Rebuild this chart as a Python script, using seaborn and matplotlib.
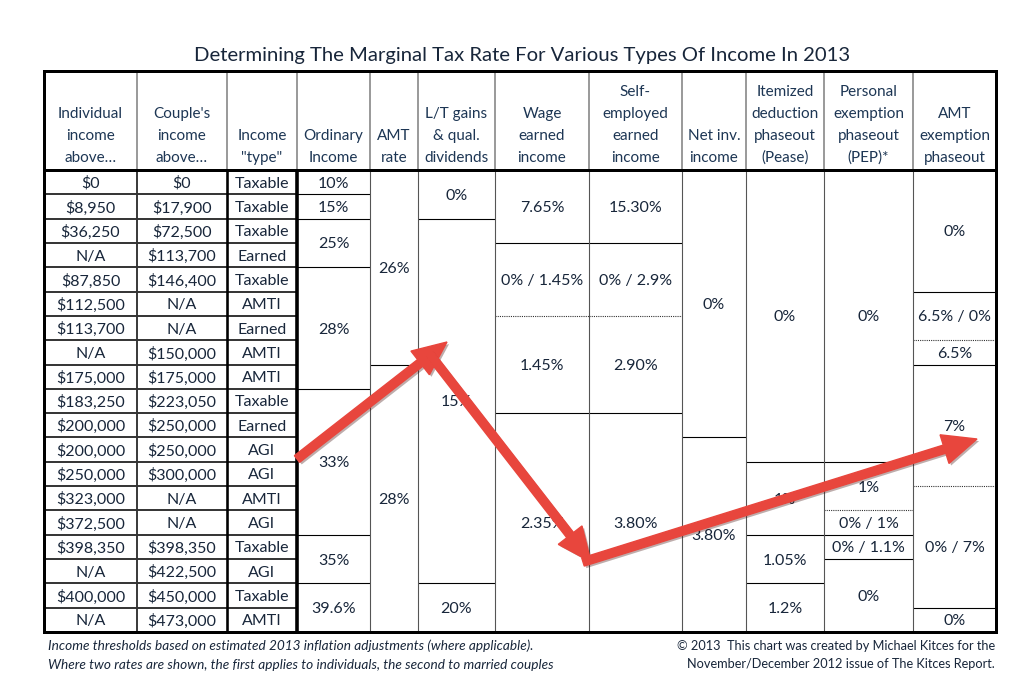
import numpy as np
import matplotlib.pyplot as plt
import matplotlib.patheffects as pe
from matplotlib.patches import FancyArrow, Rectangle
import seaborn as sns

# --- chart content ---
title = "Determining The Marginal Tax Rate For Various Types Of Income In 2013"

headers = [
    ["Individual", "income", "above…"],
    ["Couple's", "income", "above…"],
    ["Income", '"type"'],
    ["Ordinary", "Income"],
    ["AMT", "rate"],
    ["L/T gains", "& qual.", "dividends"],
    ["Wage", "earned", "income"],
    ["Self-", "employed", "earned", "income"],
    ["Net inv.", "income"],
    ["Itemized", "deduction", "phaseout", "(Pease)"],
    ["Personal", "exemption", "phaseout", "(PEP)*"],
    ["AMT", "exemption", "phaseout"],
]

individual = ["$0", "$8,950", "$36,250", "N/A", "$87,850", "$112,500", "$113,700",
              "N/A", "$175,000", "$183,250", "$200,000", "$200,000", "$250,000",
              "$323,000", "$372,500", "$398,350", "N/A", "$400,000", "N/A"]
couple = ["$0", "$17,900", "$72,500", "$113,700", "$146,400", "N/A", "N/A",
          "$150,000", "$175,000", "$223,050", "$250,000", "$250,000", "$300,000",
          "N/A", "N/A", "$398,350", "$422,500", "$450,000", "$473,000"]
income_type = ["Taxable", "Taxable", "Taxable", "Earned", "Taxable", "AMTI", "Earned",
               "AMTI", "AMTI", "Taxable", "Earned", "AGI", "AGI", "AMTI", "AGI",
               "Taxable", "AGI", "Taxable", "AMTI"]

# rate columns: labels and how many threshold rows each one covers
ordinary_labels = ["10%", "15%", "25%", "28%", "33%", "35%", "39.6%"]
ordinary_rows = [1, 1, 2, 5, 6, 2, 2]
amt_labels = ["26%", "28%"]
amt_rows = [8, 11]
ltcg_labels = ["0%", "15%", "20%"]
ltcg_rows = [2, 15, 2]
wage_labels = ["7.65%", "0% / 1.45%", "1.45%", "2.35%"]
wage_rows = [3, 3, 4, 9]
self_labels = ["15.30%", "0% / 2.9%", "2.90%", "3.80%"]
self_rows = [3, 3, 4, 9]
niit_labels = ["0%", "3.80%"]
niit_rows = [11, 8]
pease_labels = ["0%", "1%", "1.05%", "1.2%"]
pease_rows = [12, 3, 2, 2]
pep_labels = ["0%", "1%", "0% / 1%", "0% / 1.1%", "0%"]
pep_rows = [12, 2, 1, 1, 3]
amtex_labels = ["0%", "6.5% / 0%", "6.5%", "7%", "0% / 7%", "0%"]
amtex_rows = [5, 2, 1, 5, 5, 1]

# group boundaries (index of group below the line) drawn dotted instead of solid
wage_dotted = [2]
self_dotted = [2]
pep_dotted = [2]
amtex_dotted = [2, 4]

notes_left = ["Income thresholds based on estimated 2013 inflation adjustments (where applicable).",
              "Where two rates are shown, the first applies to individuals, the second to married couples"]
notes_right = ["© 2013  This chart was created by Michael Kitces for the",
               "November/December 2012 issue of The Kitces Report."]

# --- layout (pixel space) ---
sns.set_theme(style="white")
plt.rcParams['font.family'] = ['Lato', 'DejaVu Sans']

W, H = 1024, 676
col_edges = [44, 137, 227, 297, 370, 418, 495, 589, 682, 746, 824, 913, 996]
table_top, header_bottom, table_bottom = 71, 170, 632
n_rows = len(individual)
row_h = (table_bottom - header_bottom) / n_rows
px = 0.72  # points per pixel at 100 dpi

text_c = '#18263a'
head_c = '#1d3654'
arrow_c = '#e8463d'


def row_y(r):
    return header_bottom + r * row_h


fig = plt.figure(figsize=(W / 100, H / 100), dpi=100)
ax = fig.add_axes([0, 0, 1, 1])
ax.set_xlim(0, W)
ax.set_ylim(H, 0)
ax.axis('off')

ax.text(522, 56, title, ha='center', va='center', fontsize=14.6, color=text_c)

# header
for c, lines in enumerate(headers):
    xm = (col_edges[c] + col_edges[c + 1]) / 2
    for k, line in enumerate(lines[::-1]):
        ax.text(xm, 158 - 22 * k, line, ha='center', va='center', fontsize=11, color=head_c)
for x in col_edges[1:-1]:
    ax.vlines(x, table_top, header_bottom, color='#7a7a7a', lw=1.5 * px)

# threshold columns
for c, values in enumerate([individual, couple, income_type]):
    xm = (col_edges[c] + col_edges[c + 1]) / 2
    for r, v in enumerate(values):
        ax.text(xm, row_y(r + 0.5), v, ha='center', va='center_baseline',
                fontsize=11.5, color=text_c)
for r in range(1, n_rows):
    ax.hlines(row_y(r), col_edges[0], col_edges[3], color='#222222', lw=1.8 * px)
ax.vlines(col_edges[1], header_bottom, table_bottom, color='#333333', lw=1.9 * px)
ax.vlines(col_edges[2], header_bottom, table_bottom, color='black', lw=2.6 * px)
ax.vlines(col_edges[3], header_bottom, table_bottom, color='black', lw=3.6 * px)

# rate columns
rate_cols = [
    (ordinary_labels, ordinary_rows, []),
    (amt_labels, amt_rows, []),
    (ltcg_labels, ltcg_rows, []),
    (wage_labels, wage_rows, wage_dotted),
    (self_labels, self_rows, self_dotted),
    (niit_labels, niit_rows, []),
    (pease_labels, pease_rows, []),
    (pep_labels, pep_rows, pep_dotted),
    (amtex_labels, amtex_rows, amtex_dotted),
]
for i, (labels, spans, dotted) in enumerate(rate_cols):
    c = i + 3
    x0, x1 = col_edges[c], col_edges[c + 1]
    bounds = np.cumsum([0] + spans)
    for g, lab in enumerate(labels):
        ax.text((x0 + x1) / 2, row_y((bounds[g] + bounds[g + 1]) / 2), lab,
                ha='center', va='center_baseline', fontsize=11.5, color=text_c)
        if g > 0:
            if g in dotted:
                ax.hlines(row_y(bounds[g]), x0, x1, color='#333333', lw=1.1 * px,
                          linestyles=(0, (1, 1)))
            else:
                ax.hlines(row_y(bounds[g]), x0, x1, color='black', lw=1.1 * px)
    if c > 3:
        ax.vlines(x0, header_bottom, table_bottom, color='#555555', lw=1.1 * px)

# outer frame and header rule
ax.add_patch(Rectangle((col_edges[0], table_top), col_edges[-1] - col_edges[0],
                       table_bottom - table_top, fill=False, ec='black', lw=3 * px, zorder=5))
ax.hlines(header_bottom, col_edges[0], col_edges[-1], color='black', lw=3 * px, zorder=5)

# footnotes
for k, line in enumerate(notes_left):
    ax.text(48, 646 + 19 * k, line, ha='left', va='center', fontsize=9.8,
            style='italic', color=text_c)
for k, line in enumerate(notes_right):
    ax.text(995, 646 + 18 * k, line, ha='right', va='center', fontsize=9.2, color=text_c)

# red arrows drawn over the table
arrow_segments = [((297, 459), (447, 342)), ((428, 352), (591, 562)), ((583, 562), (977, 439))]
for (xa, ya), (xb, yb) in arrow_segments:
    arr = FancyArrow(xa, ya, xb - xa, yb - ya, width=8.5, head_width=30, head_length=34,
                     length_includes_head=True, color=arrow_c, zorder=10)
    arr.set_path_effects([pe.SimplePatchShadow(offset=(1.5, -1.5), alpha=0.35), pe.Normal()])
    ax.add_patch(arr)

fig.savefig('out.png', dpi=100)
